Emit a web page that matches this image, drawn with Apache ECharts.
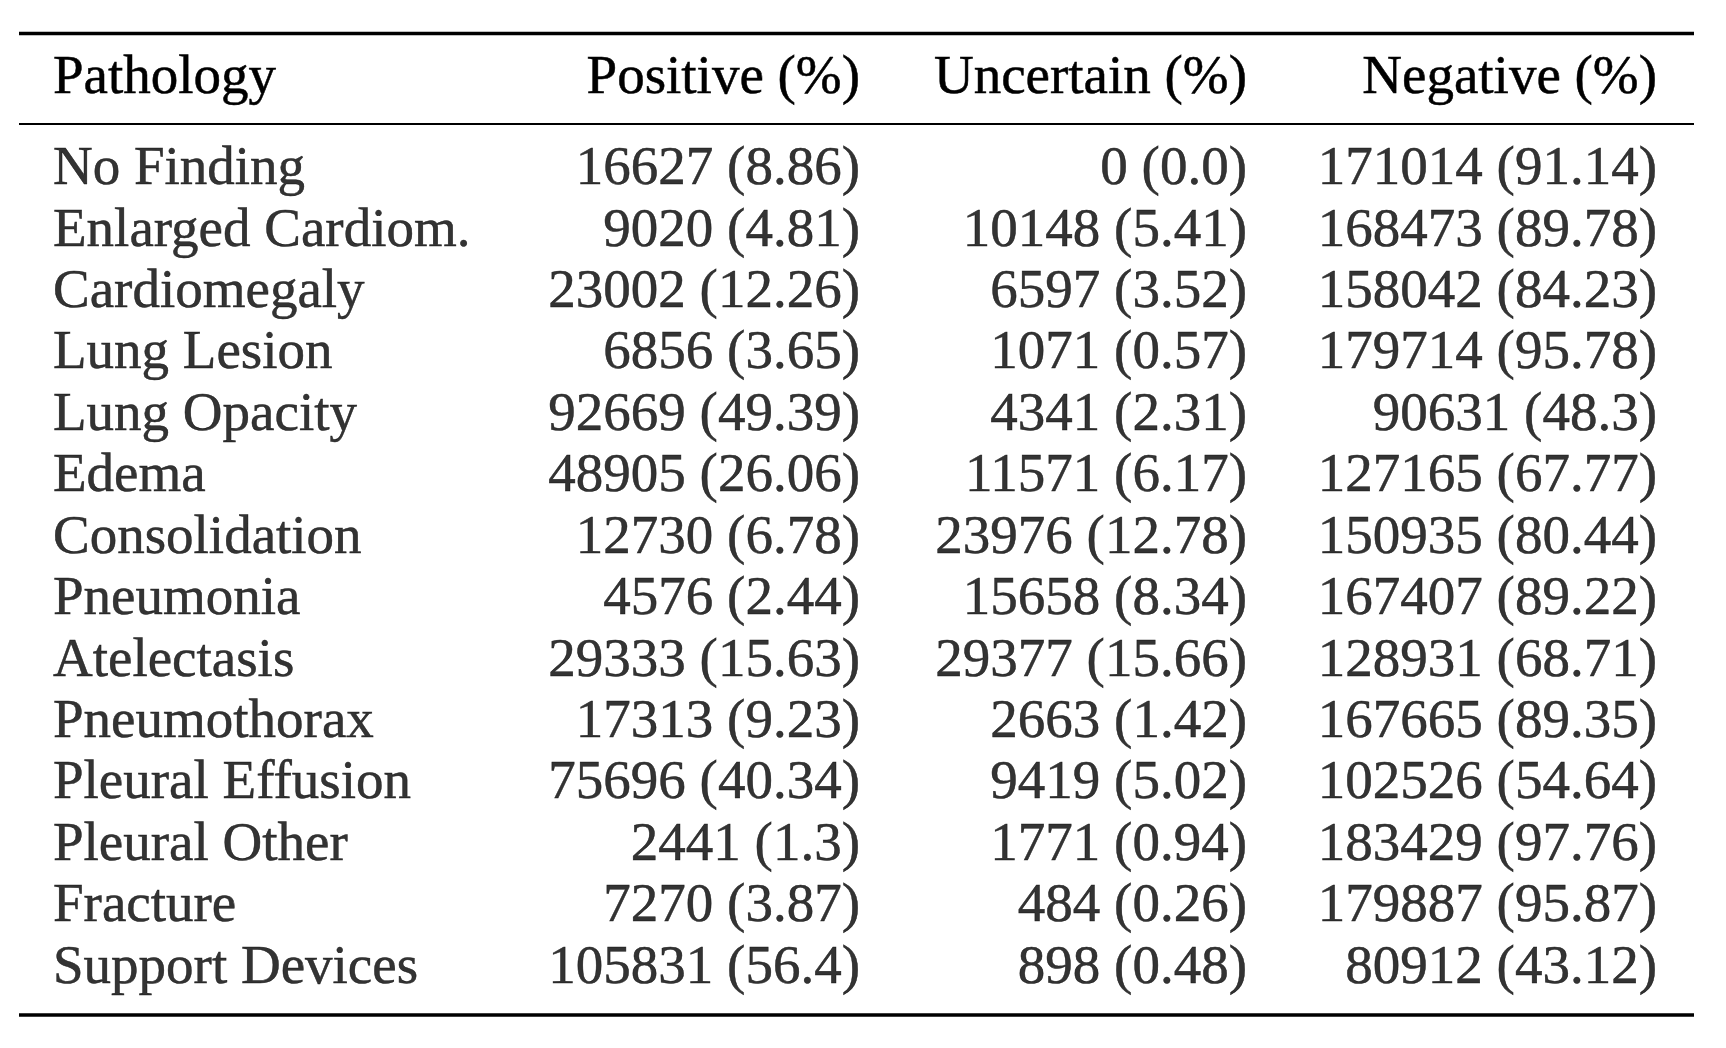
<!DOCTYPE html>
<html>
<head>
<meta charset="utf-8">
<title>Pathology label distribution</title>
<script src="https://cdn.jsdelivr.net/npm/echarts@6/dist/echarts.min.js"></script>
<style>
  html, body { margin: 0; padding: 0; background: #fff; }
  #chart { width: 1726px; height: 1048px; }
</style>
</head>
<body>
<div id="chart"></div>
<script>
// table data
var headers = ["Pathology", "Positive (%)", "Uncertain (%)", "Negative (%)"];
var pathologies = [
  "No Finding", "Enlarged Cardiom.", "Cardiomegaly", "Lung Lesion", "Lung Opacity",
  "Edema", "Consolidation", "Pneumonia", "Atelectasis", "Pneumothorax",
  "Pleural Effusion", "Pleural Other", "Fracture", "Support Devices"
];
var positiveCount = [16627, 9020, 23002, 6856, 92669, 48905, 12730, 4576, 29333, 17313, 75696, 2441, 7270, 105831];
var positivePct = ["8.86", "4.81", "12.26", "3.65", "49.39", "26.06", "6.78", "2.44", "15.63", "9.23", "40.34", "1.3", "3.87", "56.4"];
var uncertainCount = [0, 10148, 6597, 1071, 4341, 11571, 23976, 15658, 29377, 2663, 9419, 1771, 484, 898];
var uncertainPct = ["0.0", "5.41", "3.52", "0.57", "2.31", "6.17", "12.78", "8.34", "15.66", "1.42", "5.02", "0.94", "0.26", "0.48"];
var negativeCount = [171014, 168473, 158042, 179714, 90631, 127165, 150935, 167407, 128931, 167665, 102526, 183429, 179887, 80912];
var negativePct = ["91.14", "89.78", "84.23", "95.78", "48.3", "67.77", "80.44", "89.22", "68.71", "89.35", "54.64", "97.76", "95.87", "43.12"];

(function() {
  var myChart = echarts.init(document.getElementById("chart"));

  var W = 1726;
  var FONT = "'Liberation Serif', 'Times New Roman', serif";
  var FS = 55;
  // column anchors in px (first is left edge, others are right edges)
  var colX = [53, 860, 1247, 1657];

  var textStyle = {
    show: true,
    position: "inside",
    verticalAlign: "middle",
    color: "#000",
    textBorderColor: "#000",
    textBorderWidth: 0.5,
    fontFamily: FONT,
    fontSize: FS
  };

  var makeCol = function(idx, counts, pcts) {
    return {
      type: "scatter",
      symbolSize: 0,
      silent: true,
      label: Object.assign({}, textStyle, {
        align: "right",
        formatter: function(p) { return counts[p.dataIndex] + " (" + pcts[p.dataIndex] + ")"; }
      }),
      data: pathologies.map(function(name) { return [colX[idx], name]; })
    };
  };

  var series = [
    {
      type: "scatter",
      symbolSize: 0,
      silent: true,
      label: Object.assign({}, textStyle, {
        align: "left",
        formatter: function(p) { return pathologies[p.dataIndex]; }
      }),
      data: pathologies.map(function(name) { return [colX[0], name]; })
    },
    makeCol(1, positiveCount, positivePct),
    makeCol(2, uncertainCount, uncertainPct),
    makeCol(3, negativeCount, negativePct)
  ];

  // rules and header
  var rule = function(y, w) {
    return {
      type: "line",
      shape: { x1: 19, y1: y, x2: 1694, y2: y },
      style: { stroke: "#000", lineWidth: w }
    };
  };
  var graphic = [rule(33.5, 3.6), rule(124, 2.2), rule(1015, 3.6)];
  headers.forEach(function(h, i) {
    graphic.push({
      type: "text",
      x: colX[i],
      y: 78.5,
      style: {
        text: h,
        fill: "#000",
        stroke: "#000",
        lineWidth: 0.5,
        font: FS + "px " + FONT,
        textAlign: i === 0 ? "left" : "right",
        textVerticalAlign: "middle"
      }
    });
  });

  var option = {
    backgroundColor: "#fff",
    animation: false,
    grid: { left: 0, right: 0, top: 139, bottom: 49 },
    xAxis: { type: "value", min: 0, max: W, show: false },
    yAxis: {
      type: "category",
      inverse: true,
      data: pathologies,
      show: false
    },
    graphic: graphic,
    series: series
  };
  myChart.setOption(option);
})();
</script>
</body>
</html>
